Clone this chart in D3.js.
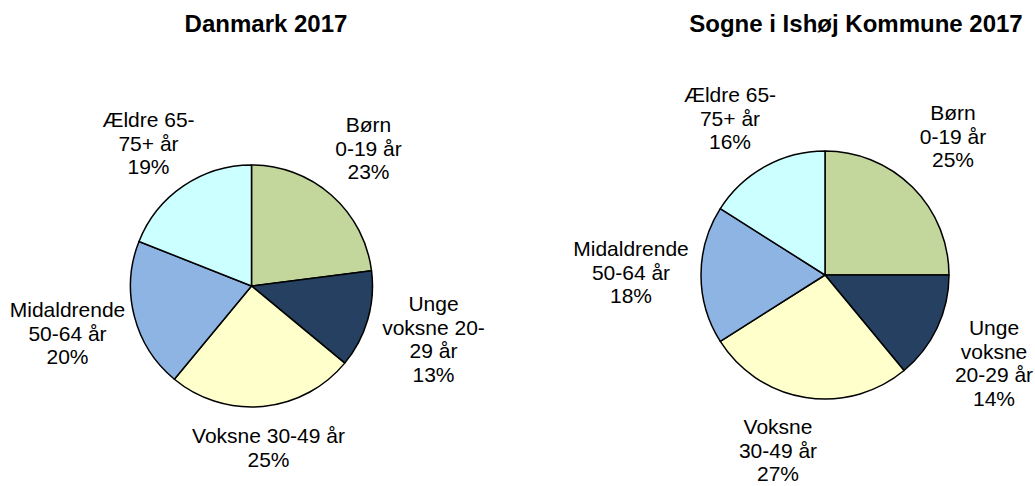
<!DOCTYPE html>
<html>
<head>
<meta charset="utf-8">
<script src="https://cdn.jsdelivr.net/npm/d3@7"></script>
<style>
  body { margin: 0; background: #fff; }
  text { font-family: "Liberation Sans", Arial, sans-serif; fill: #000; }
</style>
</head>
<body>
<div id="chart"></div>
<script>
// age groups, same order in both pies (clockwise from the top)
var groups = ["Børn", "Unge voksne", "Voksne", "Midaldrende", "Ældre"];

// shares in percent
var danmarkValues = [23, 13, 25, 20, 19];
var ishojValues = [25, 14, 27, 18, 16];

// label text, wrapped the way the original wraps it
var danmarkLabels = [
    ["Børn", "0-19 år"],
    ["Unge", "voksne 20-", "29 år"],
    ["Voksne 30-49 år"],
    ["Midaldrende", "50-64 år"],
    ["Ældre 65-", "75+ år"]
];
var ishojLabels = [
    ["Børn", "0-19 år"],
    ["Unge", "voksne", "20-29 år"],
    ["Voksne", "30-49 år"],
    ["Midaldrende", "50-64 år"],
    ["Ældre 65-", "75+ år"]
];

var colors = ["#c3d69b", "#254061", "#ffffcc", "#8eb4e3", "#ccffff"];

// svg canvas
var svgWidth = 1035;
var svgHeight = 486;

var svg = d3.select("#chart")
    .append("svg")
    .attr("width", svgWidth)
    .attr("height", svgHeight);

// layout of each pie: centre, radius, title, and where each label block sits
// (label: x of block centre and y of first baseline, relative to pie centre)
var charts = [
    {
        title: "Danmark 2017", titleX: 266, titleY: 32,
        cx: 251.5, cy: 286, r: 121,
        values: danmarkValues, labels: danmarkLabels,
        labelPos: [[117, -154], [182, 25], [17, 157], [-184, 31], [-103, -159]]
    },
    {
        title: "Sogne i Ishøj Kommune 2017", titleX: 856, titleY: 32,
        cx: 825, cy: 275, r: 124,
        values: ishojValues, labels: ishojLabels,
        labelPos: [[128, -155], [169, 60], [-47, 159], [-194, -19], [-95, -173]]
    }
];

var pie = d3.pie().sort(null).value(d => d);
var lineHeight = 23.5;

charts.forEach(function(c) {

    svg.append("text")
        .attr("x", c.titleX)
        .attr("y", c.titleY)
        .attr("text-anchor", "middle")
        .style("font-size", "24px")
        .style("font-weight", "bold")
        .text(c.title);

    var g = svg.append("g")
        .attr("transform", `translate(${c.cx}, ${c.cy})`);

    var arc = d3.arc().innerRadius(0).outerRadius(c.r);

    g.selectAll("path")
        .data(pie(c.values))
        .enter()
        .append("path")
        .attr("d", arc)
        .attr("fill", (d, i) => colors[i])
        .attr("stroke", "#000")
        .attr("stroke-width", 1.5)
        .attr("stroke-linejoin", "round");

    // labels: wrapped name lines plus the percentage
    var labels = g.selectAll("text.lbl")
        .data(pie(c.values))
        .enter()
        .append("text")
        .attr("class", "lbl")
        .attr("text-anchor", "middle")
        .style("font-size", "21px");

    labels.each(function(d, i) {
        var lines = c.labels[i].concat([d.data + "%"]);
        var t = d3.select(this);
        lines.forEach(function(line, k) {
            t.append("tspan")
                .attr("x", c.labelPos[i][0])
                .attr("y", c.labelPos[i][1] + k * lineHeight)
                .text(line);
        });
    });
});
</script>
</body>
</html>
